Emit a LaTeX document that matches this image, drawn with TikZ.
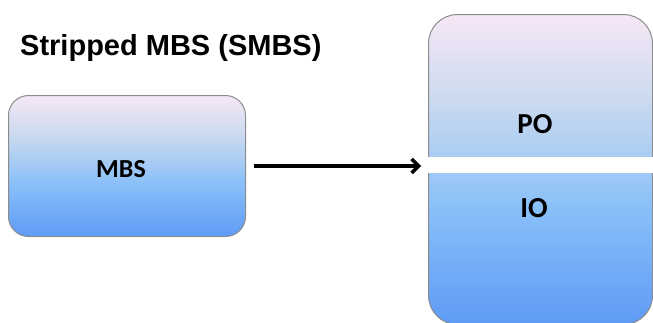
\documentclass[tikz,border=0pt]{standalone}
\usepackage{fontspec}
\setmainfont{Liberation Sans}
\newfontfamily\calib{Carlito}
\usetikzlibrary{arrows.meta}
\definecolor{gpink}{RGB}{246,231,246}
\definecolor{gpale}{RGB}{205,219,239}
\definecolor{gmid}{RGB}{169,204,243}
\definecolor{gsky}{RGB}{138,192,249}
\definecolor{gblue}{RGB}{94,155,245}
\definecolor{edge}{RGB}{140,140,140}
\pgfdeclareverticalshading{boxgrad}{100bp}{color(0bp)=(gblue); color(25bp)=(gblue); color(44bp)=(gsky); color(52bp)=(gmid); color(62bp)=(gpale); color(75bp)=(gpink); color(100bp)=(gpink)}
\tikzset{
  gradbox/.style={draw=edge, line width=1pt, shading=boxgrad, rounded corners=#1},
  lbl/.style={font=\calib\bfseries\fontsize{#1}{#1}\selectfont, inner sep=0pt},
  arr/.style={line width=3.4pt, -{Straight Barb[length=7pt,width=14pt,line width=3.4pt]}},
}
\begin{document}
\begin{tikzpicture}[x=1pt,y=-1pt]
\useasboundingbox (0,0) rectangle (653,322);
\clip (0,0) rectangle (653,322);
\node[anchor=base west, inner sep=0pt, font=\bfseries\fontsize{29}{29}\selectfont] (title) at (20,55) {Stripped MBS (SMBS)};
\node[gradbox=20pt, minimum width=237pt, minimum height=141pt, anchor=north west] (mbs) at (8,95) {};
\node[lbl=26] (mbstext) at (121,169) {MBS};
\node[gradbox=29pt, minimum width=224pt, minimum height=310pt, anchor=north west] (obox) at (428,14) {};
\node[fill=white, inner sep=0pt, minimum width=228pt, minimum height=16pt, anchor=north west] (gap) at (426,157) {};
\node[lbl=29] (po) at (535,124) {PO};
\node[lbl=29] (io) at (534,208) {IO};
\draw[arr] ([xshift=8pt]mbs.east) -- ([xshift=-7pt]obox.west |- mbs.east);
\end{tikzpicture}
\end{document}
